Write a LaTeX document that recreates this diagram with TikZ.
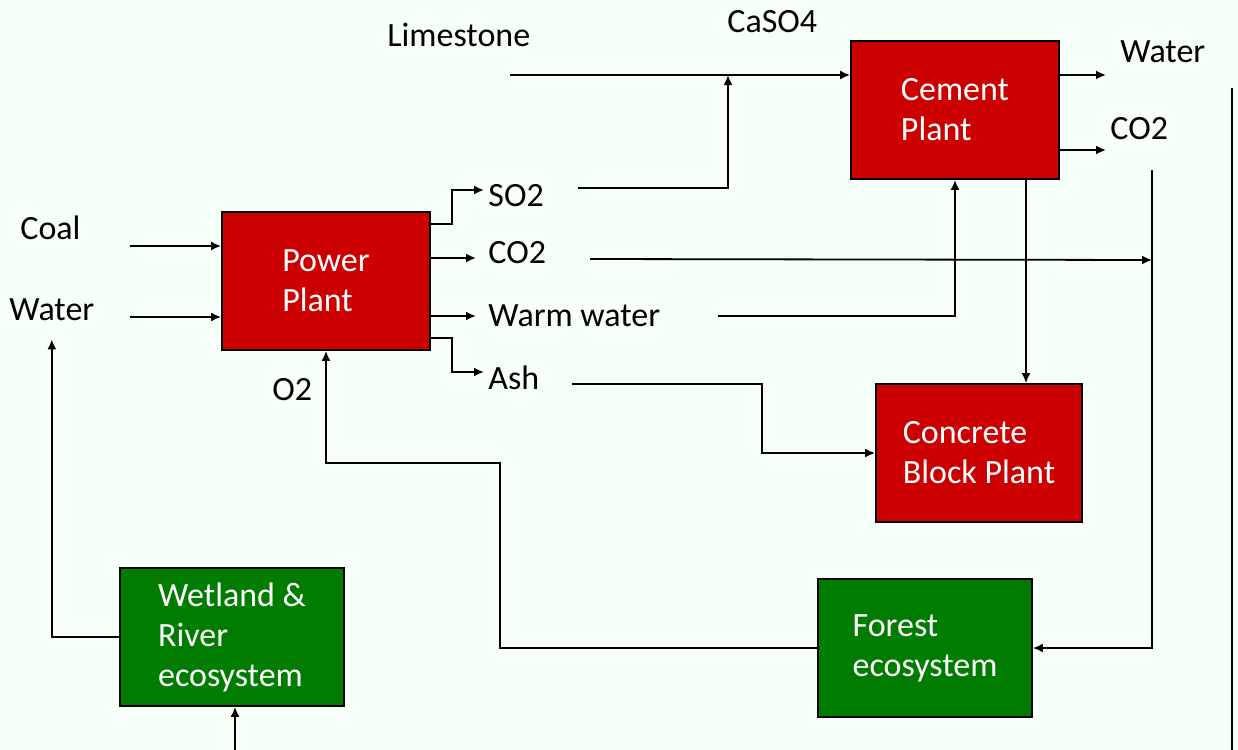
\documentclass[tikz,border=0pt]{standalone}
\usepackage{fontspec}
\setmainfont{Carlito}
\usepackage{xcolor}
\usetikzlibrary{arrows.meta,positioning}
\definecolor{plantRed}{RGB}{204,0,0}
\definecolor{ecoGreen}{RGB}{0,125,0}
\definecolor{paperBg}{RGB}{246,255,248}

\begin{document}
\begin{tikzpicture}[
    x=0.5pt, y=-0.5pt,
    >={Latex[length=5pt,width=4.5pt]},
    every node/.style={font=\fontsize{17}{20}\selectfont},
    plant/.style={
        draw,
        fill=plantRed,
        text=white,
        align=left,
        line width=0.9pt,
        minimum width=104pt,
        minimum height=69pt
    },
    eco/.style={plant, fill=ecoGreen},
    lbl/.style={inner sep=0pt, anchor=west},
    flow/.style={->, line width=0.9pt}
]
  \fill[paperBg] (0,0) rectangle (1238,750);
  \useasboundingbox (0,0) rectangle (1238,750);

  \node[plant] (power) at (326,281) {Power\\Plant};
  \node[plant] (cement) at (955,110) {Cement\\Plant};
  \node[plant, minimum width=103pt] (block) at (979,453) {Concrete\\Block Plant};
  \node[eco, minimum width=112pt] (wetland) at (232,637) {Wetland \&\\River\\ecosystem};
  \node[eco, minimum width=107pt] (forest) at (925,648) {Forest\\ecosystem};

  \node[lbl] (coal) at (20,228) {Coal};
  \node[lbl] (waterin) at (9,310) {Water};
  \node[lbl] (lime) at (387,35) {Limestone};
  \node[lbl] (caso) at (727,22) {CaSO4};
  \node[lbl] (so2) at (488,196) {SO2};
  \node[lbl] (co2) at (488,253) {CO2};
  \node[lbl] (warm) at (488,316) {Warm water};
  \node[lbl] (ash) at (488,378) {Ash};
  \node[lbl] (otwo) at (272,390) {O2};
  \node[lbl] (waterout) at (1120,52) {Water};
  \node[lbl] (co2out) at (1110,129) {CO2};

  \coordinate (coalsrc) at (130,246);
  \coordinate (watersrc) at (130,317);
  \coordinate (limesrc) at (510,75);
  \coordinate (so2src) at (578,188);
  \coordinate (merge) at (728,75);
  \coordinate (co2src) at (590,259);
  \coordinate (co2bus) at (1152,260);
  \coordinate (co2drop) at (1152,170);
  \coordinate (warmsrc) at (718,316);
  \coordinate (ashsrc) at (572,384);
  \coordinate (wetsrc) at (235,750);

  % inputs of the power plant
  \draw[flow] (coalsrc) -- (power.west |- coalsrc);
  \draw[flow] (watersrc) -- (power.west |- watersrc);
  \draw[flow] (forest.west) -| (500,463) -| (power.south);

  % outputs of the power plant
  \draw[flow] (power.east |- 0,224) -| (452,190) -- ([xshift=-2pt]so2.west |- 0,190);
  \draw[flow] (power.east |- 0,258) -- ([xshift=-6pt]co2.west |- 0,258);
  \draw[flow] (power.east |- 0,316) -- ([xshift=-6pt]warm.west |- 0,316);
  \draw[flow] (power.east |- 0,338) -| (452,372) -- ([xshift=-2pt]ash.west |- 0,372);

  \draw[flow] (limesrc) -- (cement.west |- limesrc);
  \draw[flow] (so2src) -| (merge);
  \draw[flow] (co2src) -- (co2bus);
  \draw[flow] (co2drop) |- (forest.east);
  \draw[flow] (warmsrc) -| (cement.south);
  \draw[flow] (ashsrc) -| (762,453) -- (block.west);
  \draw[flow] (cement.south -| 1026,0) -- (block.north -| 1026,0);
  \draw[flow] (cement.east |- 0,75) -- ([xshift=-7pt]waterout.west |- 0,75);
  \draw[flow] (cement.east |- 0,150) -- ([xshift=-2pt]co2out.west |- 0,150);

  \draw[flow] (wetland.west) -| ([yshift=-9pt]waterin.south);
  \draw[flow] (wetsrc) -- (wetland.south -| wetsrc);

  \draw[line width=0.9pt] (1232,88) -- (1232,750);
\end{tikzpicture}
\end{document}
